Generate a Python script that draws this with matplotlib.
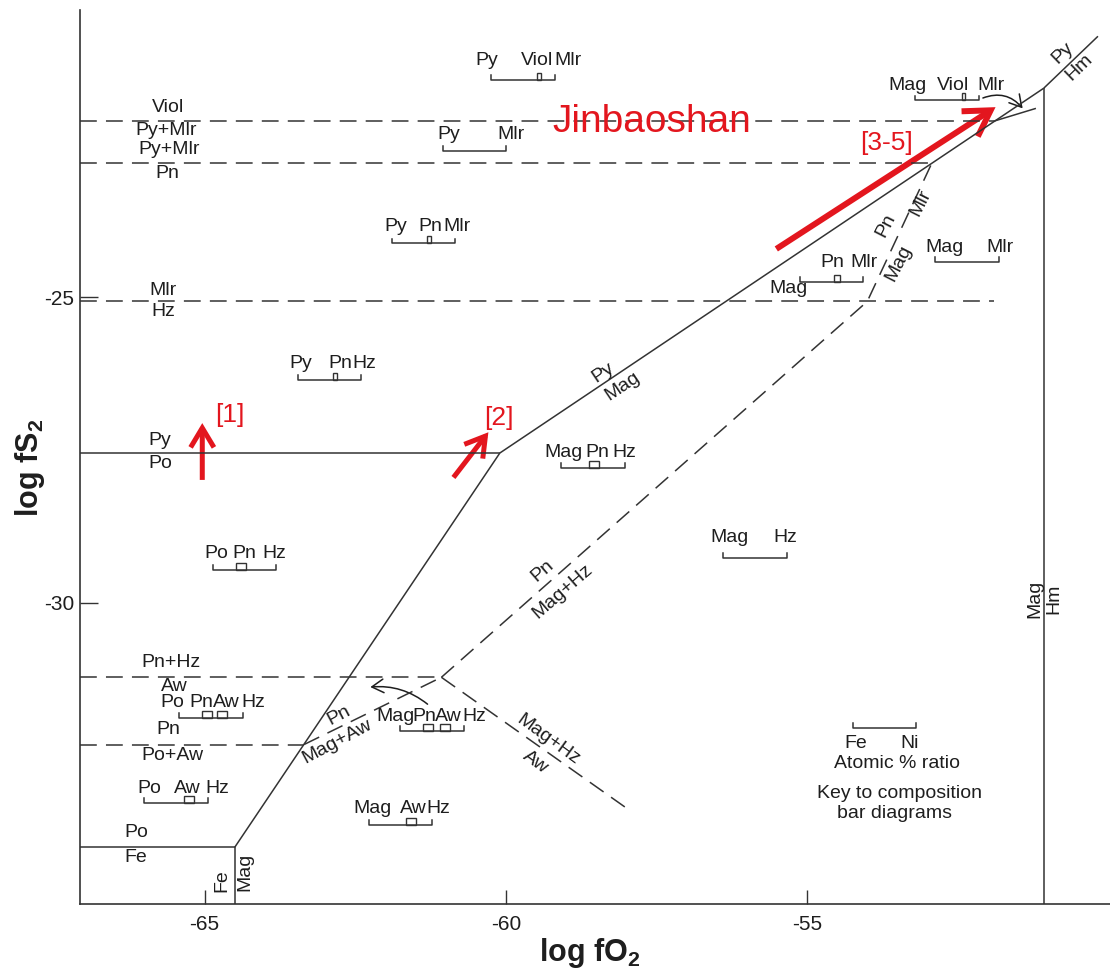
import matplotlib
matplotlib.use("Agg")
import matplotlib.pyplot as plt
from matplotlib import font_manager
from matplotlib.patches import FancyArrowPatch, Rectangle

installed = {f.name for f in font_manager.fontManager.ttflist}
BASE = 'Liberation Sans'
NARROW = 'Liberation Sans Narrow' if 'Liberation Sans Narrow' in installed else BASE
plt.rcParams['font.family'] = [BASE, 'DejaVu Sans']
plt.rcParams['mathtext.fontset'] = 'custom'
plt.rcParams['mathtext.rm'] = NARROW
plt.rcParams['mathtext.it'] = NARROW
plt.rcParams['mathtext.bf'] = f'{NARROW}:bold'

INK = '#333333'
TXT = '#1e1e1e'
RED = '#e3161e'

# ---- axis ranges and ticks -------------------------------------------------
x_min, x_max = -67.07, -49.97
y_min, y_max = -34.93, -20.30
x_ticks = [-65, -60, -55]
y_ticks = [-30, -25]

# ---- solid reaction boundaries (log fO2, log fS2) --------------------------
po_fe_x, po_fe_y = [x_min, -64.5], [-34.0, -34.0]
fe_mag_x, fe_mag_y = [-64.5, -64.5], [-34.0, y_min]
po_mag_x, po_mag_y = [-64.5, -60.1], [-34.0, -27.55]
py_po_x, py_po_y = [x_min, -60.1], [-27.55, -27.55]
py_mag_x, py_mag_y = [-60.1, -51.07], [-27.55, -21.58]
py_hm_x, py_hm_y = [-51.07, -50.17], [-21.58, -20.73]
mag_hm_x, mag_hm_y = [-51.07, -51.07], [-21.58, y_min]
viol_edge_x, viol_edge_y = [-51.9, -51.2], [-22.12, -21.91]

# ---- dashed (Ni-phase) boundaries ------------------------------------------
viol_x, viol_y = [x_min, -51.9], [-22.12, -22.12]
pn_mlr_x, pn_mlr_y = [x_min, -52.93], [-22.81, -22.81]
mlr_hz_x, mlr_hz_y = [x_min, -51.90], [-25.07, -25.07]
pnhz_aw_x, pnhz_aw_y = [x_min, -61.07], [-31.22, -31.22]
pn_poaw_x, pn_poaw_y = [x_min, -63.35], [-32.32, -32.32]
pn_magaw_x, pn_magaw_y = [-63.35, -61.07], [-32.32, -31.22]
pn_mag_x, pn_mag_y = [-61.07, -54.0, -52.93], [-31.22, -25.07, -22.81]
maghz_aw_x, maghz_aw_y = [-61.07, -57.97], [-31.22, -33.38]

# ---- field labels: text, x, y, rotation ------------------------------------
field_text = ['Viol', 'Py+Mlr', 'Py+Mlr', 'Pn', 'Mlr', 'Hz', 'Py', 'Po',
              'Pn+Hz', 'Aw', 'Pn', 'Po+Aw', 'Po', 'Fe',
              'Fe', 'Mag', 'Mag', 'Hm', 'Py', 'Mag', 'Pn', 'Mag+Hz',
              'Pn', 'Mag+Aw', 'Mag+Hz', 'Aw', 'Pn', 'Mlr', 'Mag', 'Py', 'Hm']
field_x = [-65.61, -65.64, -65.59, -65.62, -65.69, -65.69, -65.74, -65.74,
           -65.56, -65.51, -65.61, -65.54, -66.14, -66.14,
           -64.71, -64.33, -51.22, -50.91, -58.38, -58.07, -59.39, -59.05,
           -62.78, -62.80, -59.29, -59.51, -53.70, -53.11, -53.48, -50.76, -50.49]
field_y = [-21.89, -22.28, -22.59, -22.97, -24.89, -25.23, -27.34, -27.72,
           -30.97, -31.37, -32.07, -32.50, -33.76, -34.17,
           -34.54, -34.41, -29.93, -29.93, -26.24, -26.46, -29.47, -29.81,
           -31.84, -32.27, -32.25, -32.61, -23.82, -23.46, -24.44, -21.01, -21.24]
field_rot = [0, 0, 0, 0, 0, 0, 0, 0,
             0, 0, 0, 0, 0, 0,
             90, 90, 90, 90, 34, 34, 41, 41,
             28, 28, -36, -36, 63, 63, 63, 44, 44]

# ---- composition bar diagrams ----------------------------------------------
# left end and base level of each bar; Fe on the left, Ni on the right
comp_left = [-60.24, -61.04, -61.89, -63.45, -64.86, -65.42, -66.00,
             -61.75, -62.28, -59.08, -56.39, -55.12, -52.87, -53.20, -54.24]
comp_base = [-21.45, -22.61, -24.12, -26.36, -29.47, -31.89, -33.28,
             -32.10, -33.64, -27.80, -29.27, -24.75, -24.43, -21.78, -32.05]
# atomic Ni fraction of each phase box along its bar
comp_marks = [[0.75], [], [0.59], [0.59], [0.44], [0.44, 0.68], [0.71],
              [0.43, 0.70], [0.67], [0.51], [], [0.59], [], [0.76], []]
comp_mark_w = [0.066, 0, 0.066, 0.066, 0.166, 0.166, 0.166,
               0.166, 0.166, 0.166, 0, 0.10, 0, 0.066, 0]
BAR_LEN = 1.05
END_H = 0.08
MARK_H = 0.115

comp_text = ['Py', 'Viol', 'Mlr',
             'Py', 'Mlr',
             'Py', 'Pn', 'Mlr',
             'Py', 'Pn', 'Hz',
             'Po', 'Pn', 'Hz',
             'Po', 'Pn', 'Aw', 'Hz',
             'Po', 'Aw', 'Hz',
             'Mag', 'Pn', 'Aw', 'Hz',
             'Mag', 'Aw', 'Hz',
             'Mag', 'Pn', 'Hz',
             'Mag', 'Hz',
             'Pn', 'Mlr', 'Mag',
             'Mag', 'Mlr',
             'Mag', 'Viol', 'Mlr',
             'Fe', 'Ni']
comp_text_x = [-60.31, -59.49, -58.96,
               -60.94, -59.91,
               -61.82, -61.25, -60.81,
               -63.40, -62.75, -62.35,
               -64.81, -64.34, -63.85,
               -65.54, -65.06, -64.64, -64.19,
               -65.92, -65.29, -64.79,
               -61.84, -61.35, -60.96, -60.52,
               -62.22, -61.54, -61.12,
               -59.05, -58.48, -58.03,
               -56.29, -55.36,
               -54.58, -54.06, -55.31,
               -52.72, -51.79,
               -53.33, -52.57, -51.94,
               -54.19, -53.30]
comp_text_y = [-21.12, -21.12, -21.12,
               -22.33, -22.33,
               -23.85, -23.85, -23.85,
               -26.08, -26.08, -26.08,
               -29.19, -29.19, -29.19,
               -31.63, -31.63, -31.63, -31.63,
               -33.04, -33.04, -33.04,
               -31.86, -31.86, -31.86, -31.86,
               -33.36, -33.36, -33.36,
               -27.54, -27.54, -27.54,
               -28.94, -28.94,
               -24.44, -24.44, -24.85,
               -24.18, -24.18,
               -21.53, -21.53, -21.53,
               -32.30, -32.30]

key_text = ['Atomic % ratio', 'Key to composition', 'bar diagrams']
key_x = [-53.50, -53.46, -53.55]
key_y = [-32.63, -33.12, -33.45]

# ---- trend arrows and annotations ------------------------------------------
red_arrow_start = [(-65.04, -27.99), (-60.87, -27.95), (-55.51, -24.21)]
red_arrow_end = [(-65.04, -27.06), (-60.29, -27.21), (-51.87, -21.89)]
red_arrow_lw = [3.6, 3.6, 4.3]
red_arrow_head = [14, 14, 18]
red_label_text = ['[1]', '[2]', '[3-5]']
red_label_x = [-64.58, -60.12, -53.68]
red_label_y = [-26.93, -26.98, -22.48]
deposit_name = 'Jinbaoshan'
deposit_xy = (-57.57, -22.14)

black_arrow_start = [(-61.30, -31.66), (-52.08, -21.74)]
black_arrow_end = [(-62.25, -31.38), (-51.42, -21.91)]
black_arrow_rad = [0.2, -0.35]

# ---- figure ----------------------------------------------------------------
W, H = 1110, 971
fig = plt.figure(figsize=(W / 100, H / 100), dpi=100)
fig.patch.set_facecolor('white')
ax = fig.add_axes([80 / W, 67 / H, 1030 / W, 894 / H])
ax.set_xlim(x_min, x_max)
ax.set_ylim(y_min, y_max)

for s in ('top', 'right'):
    ax.spines[s].set_visible(False)
for s in ('left', 'bottom'):
    ax.spines[s].set_color(INK)
    ax.spines[s].set_linewidth(1.2)

ax.set_xticks(x_ticks)
ax.set_xticklabels([str(v) for v in x_ticks])
ax.set_yticks(y_ticks)
ax.set_yticklabels([str(v) for v in y_ticks])
ax.tick_params(axis='x', direction='in', length=10, width=1.0, color=INK, pad=8)
ax.tick_params(axis='y', direction='in', length=13, width=1.0, color=INK, pad=4)
for lab in ax.get_xticklabels() + ax.get_yticklabels():
    lab.set_family([NARROW, BASE])
    lab.set_fontsize(15)
    lab.set_color(TXT)

solid = dict(color=INK, lw=1.1, solid_capstyle='butt')
for xs, ys in [(po_fe_x, po_fe_y), (fe_mag_x, fe_mag_y), (po_mag_x, po_mag_y),
               (py_po_x, py_po_y), (py_mag_x, py_mag_y), (py_hm_x, py_hm_y),
               (mag_hm_x, mag_hm_y), (viol_edge_x, viol_edge_y)]:
    ax.plot(xs, ys, **solid)

dashed = dict(color=INK, lw=1.1, dashes=(11, 6))
for xs, ys in [(viol_x, viol_y), (pn_mlr_x, pn_mlr_y), (mlr_hz_x, mlr_hz_y),
               (pnhz_aw_x, pnhz_aw_y), (pn_poaw_x, pn_poaw_y),
               (pn_magaw_x, pn_magaw_y), (pn_mag_x, pn_mag_y),
               (maghz_aw_x, maghz_aw_y)]:
    ax.plot(xs, ys, **dashed)

LABEL_FS = 14
for t, x, y, r in zip(field_text, field_x, field_y, field_rot):
    ax.text(x, y, t, ha='center', va='center', rotation=r,
            rotation_mode='anchor', fontsize=LABEL_FS, color=TXT)

# composition bars with end ticks and phase boxes
for left, base, marks, mw in zip(comp_left, comp_base, comp_marks, comp_mark_w):
    right = left + BAR_LEN
    ax.plot([left, left, right, right], [base + END_H, base, base, base + END_H],
            color=INK, lw=1.1)
    for f in marks:
        cx = left + f * BAR_LEN
        ax.add_patch(Rectangle((cx - mw / 2, base), mw, MARK_H, fill=False,
                               edgecolor=INK, lw=1.0))
for t, x, y in zip(comp_text, comp_text_x, comp_text_y):
    ax.text(x, y, t, ha='center', va='center', fontsize=LABEL_FS, color=TXT)
for t, x, y in zip(key_text, key_x, key_y):
    ax.text(x, y, t, ha='center', va='center', fontsize=LABEL_FS, color=TXT)

# red trend arrows
for (x0, y0), (x1, y1), lw, ms in zip(red_arrow_start, red_arrow_end,
                                      red_arrow_lw, red_arrow_head):
    ax.add_patch(FancyArrowPatch((x0, y0), (x1, y1),
                                 arrowstyle='->,head_length=1.0,head_width=0.6',
                                 mutation_scale=ms, lw=lw, color=RED,
                                 shrinkA=0, shrinkB=0, capstyle='butt',
                                 joinstyle='miter'))
for t, x, y in zip(red_label_text, red_label_x, red_label_y):
    ax.text(x, y, t, ha='center', va='center', fontsize=19, color=RED)
ax.text(deposit_xy[0], deposit_xy[1], deposit_name, ha='center', va='center',
        fontsize=28, color=RED)

# thin curved pointers
for (x0, y0), (x1, y1), rad in zip(black_arrow_start, black_arrow_end, black_arrow_rad):
    ax.add_patch(FancyArrowPatch((x0, y0), (x1, y1),
                                 arrowstyle='->,head_length=0.6,head_width=0.35',
                                 mutation_scale=14, lw=1.1, color=TXT,
                                 connectionstyle=f'arc3,rad={rad}',
                                 shrinkA=0, shrinkB=0))

fig.text(590 / W, 1 - 953 / H, r'log fO$_\mathbf{2}$', ha='center', va='center',
         fontsize=22, family=[NARROW, BASE], fontweight='bold', color=TXT)
fig.text(30 / W, 1 - 468 / H, r'log fS$_\mathbf{2}$', ha='center', va='center',
         rotation=90, fontsize=22, family=[NARROW, BASE], fontweight='bold',
         color=TXT)

fig.savefig('out.png', dpi=100, facecolor='white')
